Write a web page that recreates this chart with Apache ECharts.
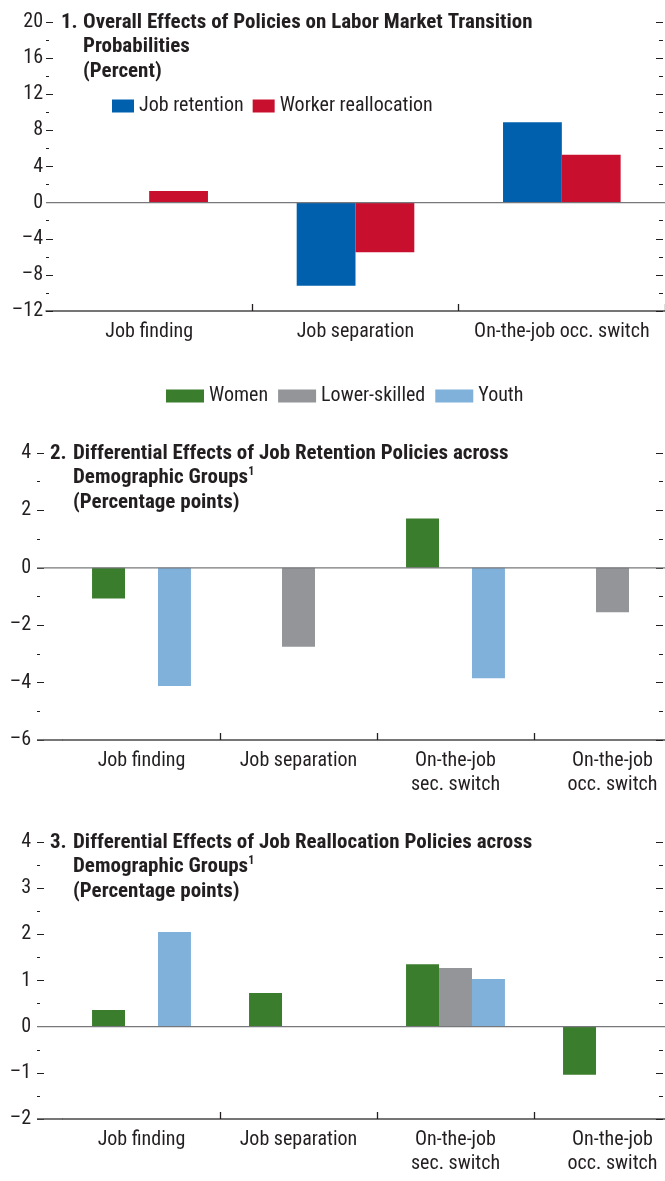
<!DOCTYPE html>
<html><head><meta charset="utf-8">
<script src="https://cdn.jsdelivr.net/npm/echarts@6/dist/echarts.min.js"></script>
<style>html,body{margin:0;padding:0;background:#fff;overflow:hidden}#c{width:665px;height:1181px}</style>
</head><body><div id="c"></div>
<script>
// ---- data ----
const categories1 = ['Job finding', 'Job separation', 'On-the-job occ. switch'];
const jobRetention1 = [0, -9.2, 8.9];
const workerRealloc1 = [1.3, -5.5, 5.3];

const categories23 = ['Job finding', 'Job separation', 'On-the-job\nsec. switch', 'On-the-job\nocc. switch'];
const women2 = [-1.07, 0, 1.72, 0];
const lowerSkilled2 = [0, -2.75, 0, -1.55];
const youth2 = [-4.12, 0, -3.85, 0];
const women3 = [0.36, 0.73, 1.35, -1.04];
const lowerSkilled3 = [0, 0, 1.27, 0];
const youth3 = [2.05, 0, 1.03, 0];

const yTicks1 = {min: -12, max: 20, interval: 4};
const yTicks2 = {min: -6, max: 4, interval: 2};
const yTicks3 = {min: -2, max: 4, interval: 1};

// ---- style ----
const FONT = "'Liberation Sans Narrow','Arial Narrow','Roboto Condensed',sans-serif";
const INK = '#231f20';
const C = {blue: '#0060ae', red: '#c8102e', green: '#3a7d2c', gray: '#939598', lblue: '#80b1da'};
const fmt = v => v < 0 ? '\u2013' + Math.abs(v) : String(v);

// panels 2 and 3 run past the right edge of the picture (cropped in the original)
const grids = [
  {left: 46, width: 619, top: 22, height: 289, outerBoundsMode: 'none', containLabel: false},
  {left: 63, width: 628, top: 453, height: 287, outerBoundsMode: 'none', containLabel: false},
  {left: 63, width: 628, top: 842, height: 277, outerBoundsMode: 'none', containLabel: false}
];
const axisLeftX = [46, 37, 37];
const labelMargin = [3, 6, 6];
const rightOffset = [-2, -28, -28];

function leftY(i, t) {
  return {type: 'value', gridIndex: i, position: 'left', offset: grids[i].left - axisLeftX[i],
    min: t.min, max: t.max, interval: t.interval,
    axisLine: {show: false}, splitLine: {show: false},
    axisTick: {show: true, inside: true, length: 7, lineStyle: {color: INK, width: 1}},
    minorTick: {show: true, splitNumber: 2, length: 3, lineStyle: {color: INK, width: 1}},
    axisLabel: {formatter: fmt, fontFamily: FONT, fontSize: 20, color: INK, margin: labelMargin[i]}};
}
function rightY(i, t) {
  return {type: 'value', gridIndex: i, position: 'right', offset: rightOffset[i],
    min: t.min, max: t.max, interval: t.interval,
    axisLine: {show: false}, splitLine: {show: false}, axisLabel: {show: false},
    axisTick: {show: true, inside: true, length: 7, lineStyle: {color: INK, width: 1}},
    minorTick: {show: true, splitNumber: 2, length: 4, lineStyle: {color: INK, width: 1}}};
}
function catX(i, cats) {
  return {type: 'category', gridIndex: i, data: cats, position: 'bottom',
    axisLine: {show: true, onZero: false, lineStyle: {color: '#4a4a4a', width: 1.5}},
    axisTick: {show: true, inside: true, length: 7, interval: idx => idx !== 0, lineStyle: {color: INK, width: 1.3}},
    axisLabel: {fontFamily: FONT, fontSize: 20, color: INK, margin: 9, lineHeight: 24, interval: 0, hideOverlap: false}};
}
function bar(name, data, color, xi, yi, gap) {
  return {type: 'bar', name: name, data: data, xAxisIndex: xi, yAxisIndex: yi,
    itemStyle: {color: color}, barGap: '0%', barCategoryGap: gap, emphasis: {disabled: true}};
}
const titleStyle = {fontFamily: FONT, fontWeight: 'bold', fontSize: 21, lineHeight: 24.5, color: INK,
  rich: {sup: {fontFamily: FONT, fontWeight: 'bold', fontSize: 12, color: INK, verticalAlign: 'top', lineHeight: 24, padding: [0, 0, 10, 0]}}};

const option = {
  animation: false,
  backgroundColor: '#fff',
  textStyle: {fontFamily: FONT},
  title: [
    {text: '1.', left: 61, top: 10, padding: 0, textStyle: titleStyle},
    {text: 'Overall Effects of Policies on Labor Market Transition\nProbabilities\n(Percent)', left: 83, top: 10, padding: 0, textStyle: titleStyle},
    {text: '2.', left: 50, top: 441, padding: 0, textStyle: titleStyle},
    {text: 'Differential Effects of Job Retention Policies across\nDemographic Groups{sup|1}\n(Percentage points)', left: 73, top: 441, padding: 0, textStyle: titleStyle},
    {text: '3.', left: 50, top: 830, padding: 0, textStyle: titleStyle},
    {text: 'Differential Effects of Job Reallocation Policies across\nDemographic Groups{sup|1}\n(Percentage points)', left: 73, top: 830, padding: 0, textStyle: titleStyle}
  ],
  legend: [
    {data: ['Job retention', 'Worker reallocation'], left: 112, top: 96, padding: 0, itemGap: 9,
      itemWidth: 22, itemHeight: 13, icon: 'rect', selectedMode: false,
      textStyle: {fontFamily: FONT, fontSize: 20, color: INK}},
    {data: ['Women', 'Lower-skilled', 'Youth'], left: 166, top: 386, padding: 0, itemGap: 10,
      itemWidth: 38, itemHeight: 13, icon: 'rect', selectedMode: false,
      textStyle: {fontFamily: FONT, fontSize: 20, color: INK}}
  ],
  grid: grids,
  xAxis: [catX(0, categories1), catX(1, categories23), catX(2, categories23)],
  yAxis: [leftY(0, yTicks1), rightY(0, yTicks1), leftY(1, yTicks2), rightY(1, yTicks2), leftY(2, yTicks3), rightY(2, yTicks3)],
  series: [
    bar('Job retention', jobRetention1, C.blue, 0, 0, '43%'),
    bar('Worker reallocation', workerRealloc1, C.red, 0, 0, '43%'),
    bar('Women', women2, C.green, 1, 2, '37%'),
    bar('Lower-skilled', lowerSkilled2, C.gray, 1, 2, '37%'),
    bar('Youth', youth2, C.lblue, 1, 2, '37%'),
    bar('Women', women3, C.green, 2, 4, '37%'),
    bar('Lower-skilled', lowerSkilled3, C.gray, 2, 4, '37%'),
    bar('Youth', youth3, C.lblue, 2, 4, '37%')
  ]
};

const chart = echarts.init(document.getElementById('c'), null, {renderer: 'canvas'});
chart.setOption(option);

// zero lines and axis-line extensions, positioned through the library's scales
const lines = [];
[[0, 0, yTicks1], [1, 2, yTicks2], [2, 4, yTicks3]].forEach(([g, yi, t]) => {
  const zy = chart.convertToPixel({yAxisIndex: yi}, 0);
  const by = chart.convertToPixel({yAxisIndex: yi}, t.min);
  lines.push({type: 'line', z: 10, silent: true,
    shape: {x1: axisLeftX[g], y1: zy, x2: 665, y2: zy}, style: {stroke: '#77787b', lineWidth: 1.3}});
  if (grids[g].left > axisLeftX[g]) {
    lines.push({type: 'line', z: 10, silent: true,
      shape: {x1: axisLeftX[g], y1: by, x2: grids[g].left, y2: by}, style: {stroke: '#4a4a4a', lineWidth: 1.5}});
  }
});
chart.setOption({graphic: lines});
</script>
</body></html>
